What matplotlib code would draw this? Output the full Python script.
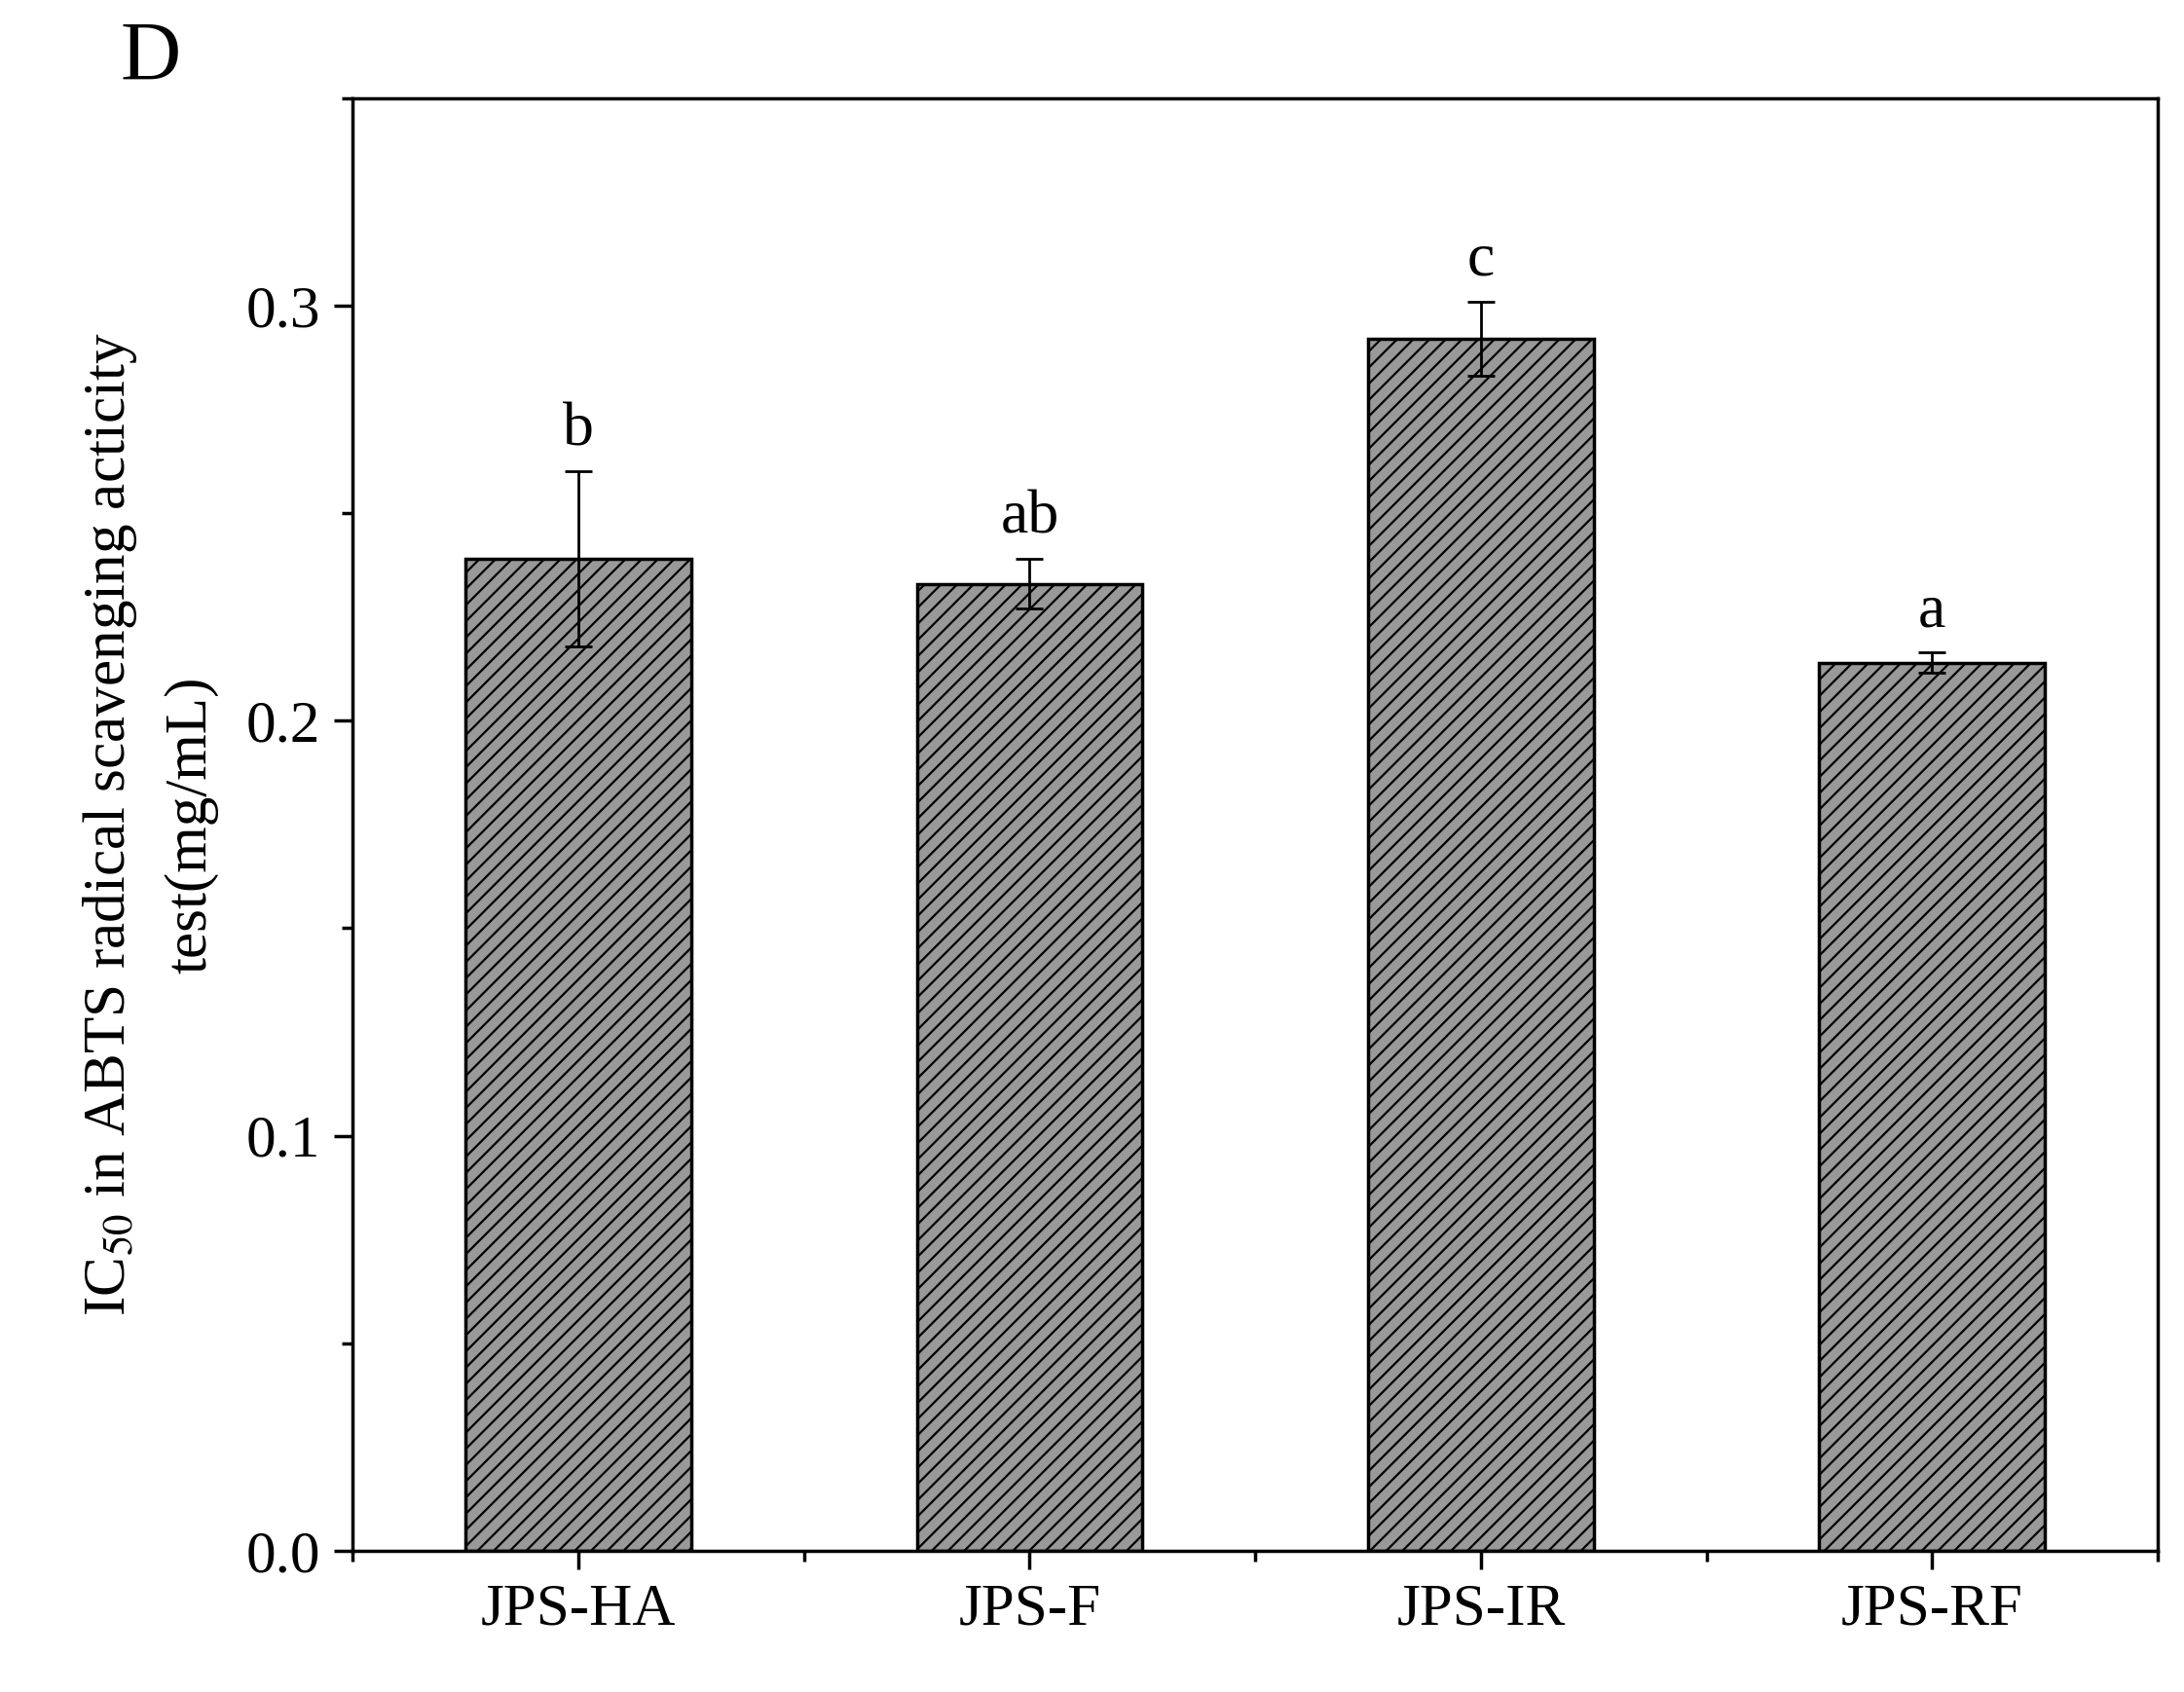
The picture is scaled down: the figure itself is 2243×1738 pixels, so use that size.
import matplotlib
matplotlib.use("Agg")
import matplotlib.pyplot as plt
from matplotlib.ticker import MultipleLocator

categories = ["JPS-HA", "JPS-F", "JPS-IR", "JPS-RF"]
values = [0.239, 0.233, 0.292, 0.214]
errors = [0.021, 0.006, 0.009, 0.0024]
letters = ["b", "ab", "c", "a"]

plt.rcParams['font.family'] = ['Liberation Serif', 'DejaVu Serif']
plt.rcParams['mathtext.fontset'] = 'stix'
plt.rcParams['hatch.linewidth'] = 1.6

fig = plt.figure(figsize=(22.43, 17.38), dpi=100)
ax = fig.add_axes([0.1615, 0.0835, 0.8265, 0.8585])
x = list(range(len(categories)))
ax.bar(x, values, width=0.5, color='#999999', edgecolor='black', linewidth=2.5, hatch='//')
ax.errorbar(x, values, yerr=errors, fmt='none', ecolor='black', elinewidth=2, capsize=10, capthick=2)
for xi, v, e, l in zip(x, values, errors, letters):
    ax.text(xi, v + e + 0.003, l, ha='center', va='bottom', fontsize=46)

ax.set_xlim(-0.5, 3.5)
ax.set_ylim(0, 0.35)
ax.set_xticks(x)
ax.set_xticklabels(categories)
ax.xaxis.set_minor_locator(MultipleLocator(0.5))
ax.set_yticks([0.0, 0.1, 0.2, 0.3])
ax.yaxis.set_minor_locator(MultipleLocator(0.05))
ax.tick_params(axis='both', which='major', direction='out', length=14, width=2.5, labelsize=44, pad=10)
ax.tick_params(axis='both', which='minor', direction='out', length=8, width=2.5)
for s in ax.spines.values():
    s.set_linewidth(2.5)
ax.set_ylabel("IC$_{50}$ in ABTS radical scavenging acticity\ntest(mg/mL)", fontsize=44, linespacing=1.6, labelpad=20)
fig.text(0.055, 0.965, "D", fontsize=62, ha='left', va='center')
fig.savefig("out.png", dpi=100)
